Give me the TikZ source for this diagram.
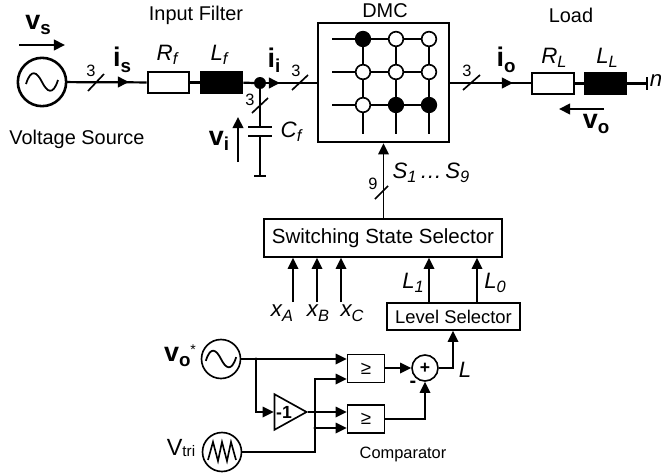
\documentclass[tikz,border=0pt]{standalone}
\usepackage{fontspec}
\setmainfont{Liberation Sans}
\usetikzlibrary{arrows.meta, shapes.geometric, calc}
\def \bold#1#2{{\fontsize{23}{23}\selectfont\bfseries #1\raisebox{-0.2em}{\fontsize{16}{16}\selectfont #2}}}
\def \ital#1#2{{\fontsize{19}{19}\selectfont\itshape #1\raisebox{-0.2em}{\fontsize{14}{14}\selectfont #2}}}

\begin{document}
\begin{tikzpicture}[
    x=0.03cm, y=-0.03cm,
    label/.style={
        font=\fontsize{17}{17}\selectfont,
        inner sep=0pt
    },
    small/.style={
        font=\fontsize{14}{14}\selectfont,
        inner sep=0pt
    },
    wire/.style={
        line width=1.9pt
    },
    signal/.style={
        line width=1.4pt
    },
    arrow/.style={
        -{Triangle[length=9.5pt, width=9pt]},
        line width=#1
    },
    arrow/.default=1.4pt,
    element/.style={
        rectangle,
        draw,
        fill=#1,
        line width=1.9pt,
        minimum width=1.24cm,
        minimum height=0.64cm,
        inner sep=0pt
    },
    source/.style={
        circle,
        draw,
        line width=#1,
        minimum size=1.2cm,
        inner sep=0pt
    },
    block/.style={
        rectangle,
        draw,
        line width=1.4pt,
        inner sep=0pt,
        align=center
    },
    switch/.style={
        circle,
        draw,
        fill=#1,
        line width=1.4pt,
        minimum size=0.44cm,
        inner sep=0pt
    },
    compare/.style={
        block,
        minimum width=1.11cm,
        minimum height=0.83cm,
        font=\fontsize{16}{16}\selectfont
    },
    sine/.pic={
        \draw[line width=1.5pt] (-16,2) .. controls (-11,-14) and (-5,-10) .. (0,0)
            .. controls (5,10) and (11,14) .. (16,-2);
    }
]
\useasboundingbox (0,0) rectangle (661,474);

% Position the input side
\node[source=2.2pt, minimum size=1.45cm] (vs) at (42,82) {};
\pic at (42,82) {sine};
\node[element=white] (rf) at (168.5,82.5) {};
\node[element=black] (lf) at (221.5,82.5) {};
\node[circle, fill=black, minimum size=0.36cm, inner sep=0pt] (junction) at (260,83) {};
\coordinate (capTop) at (260,127);
\coordinate (capBot) at (260,136);
\coordinate (ground) at (260,176);

% DMC box with its switch matrix
\node[rectangle, draw, line width=2.2pt, minimum width=3.93cm, minimum height=3.57cm, inner sep=0pt] (dmc) at (383.5,82.5) {};
\foreach \row/\y in {a/39, b/72, c/105} {
    \coordinate (start\row) at (332,\y);
}
\foreach \col/\x in {1/363, 2/396, 3/429} {
    \coordinate (end\col) at (\x,134);
}
\draw[signal] (starta) -- (429,39);
\draw[signal] (startb) -- (429,72);
\draw[signal] (startc) -- (429,105);
\draw[signal] (363,39) -- (end1);
\draw[signal] (396,39) -- (end2);
\draw[signal] (429,39) -- (end3);
\foreach \name/\x/\y/\shade in {a1/363/39/black, a2/396/39/white, a3/429/39/white,
    b1/363/72/white, b2/396/72/white, b3/429/72/white,
    c1/363/105/white, c2/396/105/black, c3/429/105/black} {
    \node[switch=\shade] (\name) at (\x,\y) {};
}

% Position the load
\node[element=white] (rl) at (553,83.5) {};
\node[element=black] (ll) at (605.5,83.5) {};
\coordinate (neutral) at (647,83.5);

% Position the control blocks
\node[block, minimum width=7.14cm, minimum height=1.14cm, font=\fontsize{17.5}{17.5}\selectfont] (selector) at (383,238) {Switching State Selector};
\node[block, minimum width=3.99cm, minimum height=0.81cm, font=\fontsize{15.7}{15.7}\selectfont] (level) at (453.5,316.5) {Level Selector};
\node[source=1.4pt, minimum size=1.17cm] (vo) at (221,359) {};
\pic[scale=0.95] at (221,359) {sine};
\node[source=1.4pt, minimum size=1.17cm] (vtri) at (222,452) {};
\draw[line width=1.4pt] (208,460) -- (213,442) -- (218,461) -- (222,442) -- (227,461) -- (231,442) -- (236,460);
\node[compare] (comp1) at (366,368.5) {≥};
\node[compare] (comp2) at (366,419) {≥};
\node[circle, draw, line width=1.4pt, minimum size=0.78cm, inner sep=0pt, font=\fontsize{15}{15}\selectfont\bfseries] (sum) at (425,368) {+};
\node[isosceles triangle, isosceles triangle apex angle=58, draw, line width=1.4pt, minimum height=0.96cm, inner sep=0pt] (gain) at (285,412) {};
\node[small, font=\fontsize{15}{15}\selectfont\bfseries] (gainText) at (284,412) {-1};

% Draw the power wires
\coordinate (isTip) at (129,82);
\coordinate (iiTip) at (280,83);
\coordinate (ioTip) at (513,83);
\draw[wire] (vs) -- (rf);
\draw[arrow=1.9pt] (vs.east) -- (isTip);
\draw[wire] (rf) -- (lf);
\draw[wire] (lf) -- (junction);
\draw[wire] (junction) -- (dmc.west |- junction);
\draw[arrow=1.9pt] (junction) -- (iiTip);
\draw[wire] (dmc.east |- ioTip) -- (rl.west |- ioTip);
\draw[arrow=1.9pt] (dmc.east |- ioTip) -- (ioTip);
\draw[wire] (rl) -- (ll);
\draw[wire] (ll) -- (neutral);
\draw[wire] (647,77) -- (647,90);

% Capacitor branch
\draw[wire] (junction) -- (capTop);
\draw[wire] (capBot) -- (ground);
\draw[line width=2.2pt] (248,127) -- (272,127);
\draw[line width=2.2pt] (248,136) -- (272,136);
\draw[line width=2.2pt] (254,176) -- (266,176);

% Bus marks
\draw[signal] (88,91) -- (104,74);
\draw[signal] (252,113) -- (268,98);
\draw[signal] (292,90) -- (308,75);
\draw[signal] (463,90) -- (480,75);
\draw[signal] (375,199) -- (388,186);

% Voltage arrows
\coordinate (vsFrom) at (19,45);
\coordinate (vsTo) at (65,45);
\coordinate (viFrom) at (238,162);
\coordinate (viTo) at (238,117);
\coordinate (voFrom) at (604,109);
\coordinate (voTo) at (559,109);
\draw[arrow=2.2pt] (vsFrom) -- (vsTo);
\draw[arrow=2.2pt] (viFrom) -- (viTo);
\draw[arrow=2.2pt] (voFrom) -- (voTo);

% Draw the control arrows
\draw[arrow] (selector.north -| dmc.south) -- (dmc.south);
\foreach \name/\x in {xa/293, xb/317, xc/341} {
    \coordinate (\name) at (\x,302);
    \draw[arrow] (\name) -- (\name |- selector.south);
}
\coordinate (lone) at (429,303);
\coordinate (lzero) at (477,303);
\draw[arrow] (lone) -- (lone |- selector.south);
\draw[arrow] (lzero) -- (lzero |- selector.south);
\coordinate (branchA) at (256,359);
\coordinate (branchB) at (315,428);
\draw[arrow] (vo.east) -- (comp1.west |- vo.east);
\draw[arrow] (branchA) |- (gain.left corner |- gain.east);
\draw[arrow] (gain.east) -- (comp2.west |- gain.east);
\draw[signal] (vtri.east) -| (branchB);
\draw[arrow] (branchB) |- (comp1.west |- 0,379);
\draw[arrow] (branchB) -- (comp2.west |- branchB);
\draw[arrow] (comp1.east |- sum) -- (sum.west);
\draw[arrow] (comp2.east) -| (sum.south);
\draw[arrow] (sum.east) -| (level.south -| 453,330);
\fill (branchA) circle (1.6);
\fill (branchB) circle (1.6);

% Labels
\node[label] (filterText) at (196,15) {Input Filter};
\node[label] (sourceText) at (77,139) {Voltage Source};
\node[label] (dmcText) at (385,11) {DMC};
\node[label] (loadText) at (571,15) {Load};
\node[small] (n1) at (91,71) {3};
\node[small] (n2) at (250,100) {3};
\node[small] (n3) at (296,71) {3};
\node[small] (n4) at (467,71) {3};
\node[small] (n5) at (373,184) {9};
\node (vsText) at (38,25) {\bold{v}{s}};
\node (isText) at (122,60) {\bold{i}{s}};
\node (iiText) at (274,60) {\bold{i}{i}};
\node (ioText) at (506,60) {\bold{i}{o}};
\node (viText) at (219,141) {\bold{v}{i}};
\node (voText) at (596,124) {\bold{v}{o}};
\node (rfText) at (167,55) {\ital{R}{f}};
\node (lfText) at (219,55) {\ital{L}{f}};
\node (cfText) at (291,132) {\ital{C}{f}};
\node (rlText) at (554,58) {\ital{R}{L}};
\node (llText) at (607,58) {\ital{L}{L}};
\node (nText) at (656,83) {\ital{n}{}};
\node (sText) at (431,173) {\ital{S}{1} \ital{\dots}{} \ital{S}{9}};
\node (xaText) at (282,313) {\ital{x}{A}};
\node (xbText) at (318,313) {\ital{x}{B}};
\node (xcText) at (352,313) {\ital{x}{C}};
\node (l1Text) at (413,283) {\ital{L}{1}};
\node (l0Text) at (495,283) {\ital{L}{0}};
\node (lText) at (465,372) {\ital{L}{}};
\node (voRef) at (180,356) {\bold{v}{o}\raisebox{0.6em}{\fontsize{12}{12}\selectfont *}};
\node (vtriText) at (181,448) {{\fontsize{20}{20}\selectfont V}\raisebox{-0.15em}{\fontsize{13}{13}\selectfont tri}};
\node[font=\fontsize{17}{17}\selectfont\bfseries, inner sep=0pt] (minus) at (413,384) {-};
\node[small] (compText) at (403,454) {Comparator};
\end{tikzpicture}
\end{document}
